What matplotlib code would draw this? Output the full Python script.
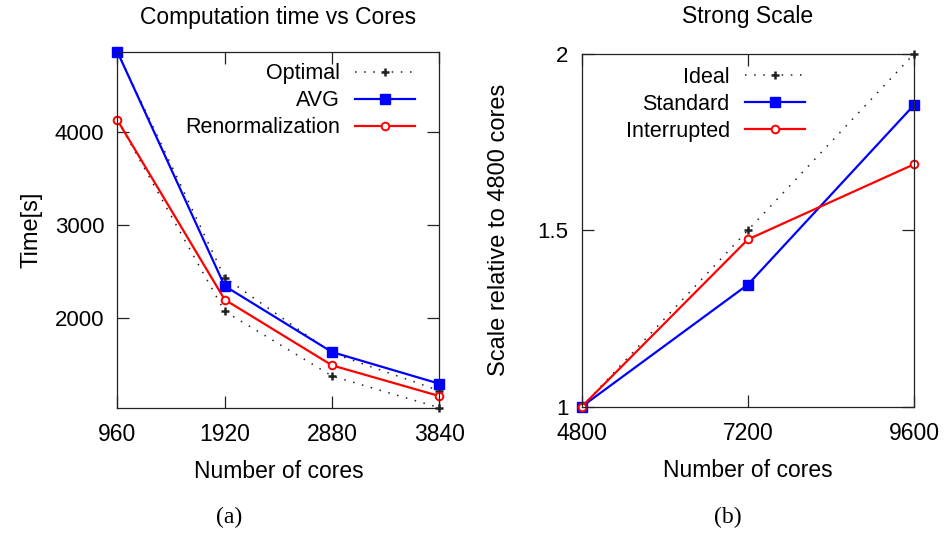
import matplotlib
matplotlib.use("Agg")
import matplotlib.pyplot as plt
from matplotlib import font_manager

# ---- data ----
cores_a = [960, 1920, 2880, 3840]
avg_time = [4869, 2345, 1633, 1292]
renorm_time = [4133, 2198, 1490, 1159]
optimal_avg = [4869, 2436, 1623, 1217]
optimal_renorm = [4133, 2072, 1375, 1033]
xticks_a = [960, 1920, 2880, 3840]
yticks_a = [2000, 3000, 4000]

cores_b = [4800, 7200, 9600]
ideal = [1.0, 1.5, 2.0]
standard = [1.0, 1.346, 1.855]
interrupted = [1.0, 1.474, 1.687]
xticks_b = [4800, 7200, 9600]
yticks_b = [1, 1.5, 2]
yticklabels_b = ["1", "1.5", "2"]

SANS = ["Liberation Sans", "DejaVu Sans"]
plt.rcParams["font.family"] = SANS

# the titles / x labels in the original use a condensed face; take it if present
names = {f.name for f in font_manager.fontManager.ttflist}
if "Liberation Sans Narrow" in names:
    NARROW = ["Liberation Sans Narrow", "DejaVu Sans"]
    nscale = 1.2
else:
    NARROW = SANS
    nscale = 1.0

fig = plt.figure(figsize=(9.47, 5.33), dpi=100)
ax1 = fig.add_axes([0.1239, 0.2350, 0.3400, 0.6680])
ax2 = fig.add_axes([0.6143, 0.2370, 0.3509, 0.6620])

dot_style = dict(color="#222222", lw=1.1, linestyle=(0, (1, 5)),
                 marker="+", markersize=6, mew=1.8, clip_on=False)
blue_style = dict(color="#0000ff", lw=1.6, marker="s", markersize=6.5, clip_on=False)
red_style = dict(color="#ff0000", lw=1.6, marker="o", markersize=5.5,
                 markerfacecolor="white", mew=1.4, clip_on=False)


def style_axes(ax):
    for s in ax.spines.values():
        s.set_linewidth(0.9)
        s.set_color("#222222")
    ax.tick_params(direction="in", length=8.5, width=0.9, top=True, right=True,
                   color="#222222")
    ax.tick_params(axis="y", labelsize=16, pad=9.5)
    ax.tick_params(axis="x", pad=11)
    for lab in ax.get_xticklabels():
        lab.set_fontfamily(NARROW)
        lab.set_fontsize(16.5 * nscale)


# ---- (a) computation time ----
ax1.plot(cores_a, optimal_avg, label="Optimal", **dot_style)
ax1.plot(cores_a, optimal_renorm, **dot_style)
ax1.plot(cores_a, avg_time, label="AVG", **blue_style)
ax1.plot(cores_a, renorm_time, label="Renormalization", **red_style)
ax1.set_xlim(960, 3840)
ax1.set_ylim(min(optimal_renorm), max(avg_time))
ax1.set_xticks(xticks_a)
ax1.set_yticks(yticks_a)
style_axes(ax1)
ax1.set_title("Computation time vs Cores", fontfamily=NARROW, fontsize=16.5 * nscale, pad=20)
ax1.set_xlabel("Number of cores", fontfamily=NARROW, fontsize=16.5 * nscale)
ax1.xaxis.set_label_coords(0.5, -0.18)
ax1.xaxis.label.set_va("center")
ax1.set_ylabel("Time[s]", fontsize=17)
ax1.yaxis.set_label_coords(-0.268, 0.5)
ax1.yaxis.label.set_va("center")
ax1.legend(loc="upper right", bbox_to_anchor=(0.925, 0.968), frameon=False,
           markerfirst=False, numpoints=1, fontsize=15.5, handlelength=2.8,
           handletextpad=0.7, labelspacing=0.28, borderpad=0, borderaxespad=0)

# ---- (b) strong scale ----
ax2.plot(cores_b, ideal, label="Ideal", **dot_style)
ax2.plot(cores_b, standard, label="Standard", **blue_style)
ax2.plot(cores_b, interrupted, label="Interrupted", **red_style)
ax2.set_xlim(4800, 9600)
ax2.set_ylim(1, 2)
ax2.set_xticks(xticks_b)
ax2.set_yticks(yticks_b)
ax2.set_yticklabels(yticklabels_b)
style_axes(ax2)
ax2.set_title("Strong Scale", fontfamily=NARROW, fontsize=16.5 * nscale, pad=22)
ax2.set_xlabel("Number of cores", fontfamily=NARROW, fontsize=16.5 * nscale)
ax2.xaxis.set_label_coords(0.5, -0.18)
ax2.xaxis.label.set_va("center")
ax2.set_ylabel("Scale relative to 4800 cores", fontsize=17)
ax2.yaxis.set_label_coords(-0.25, 0.5)
ax2.yaxis.label.set_va("center")
ax2.legend(loc="upper right", bbox_to_anchor=(0.672, 0.963), frameon=False,
           markerfirst=False, numpoints=1, fontsize=15.5, handlelength=2.8,
           handletextpad=0.7, labelspacing=0.28, borderpad=0, borderaxespad=0)

# ---- captions ----
fig.text(229 / 947, 1 - 517 / 533, "(a)", ha="center", va="center",
         fontfamily=["Liberation Serif", "DejaVu Serif"], fontsize=17)
fig.text(728 / 947, 1 - 517 / 533, "(b)", ha="center", va="center",
         fontfamily=["Liberation Serif", "DejaVu Serif"], fontsize=17)

fig.savefig("out.png", dpi=100, facecolor="white")
